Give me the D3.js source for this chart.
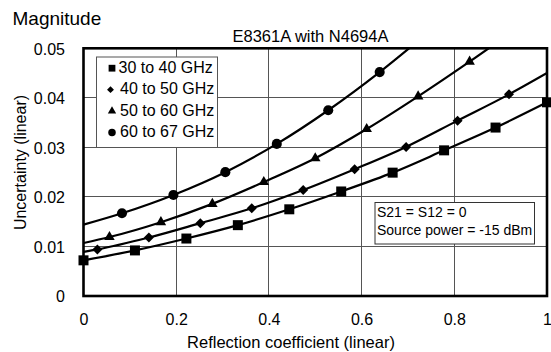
<!DOCTYPE html>
<html>
<head>
<meta charset="utf-8">
<script src="https://cdn.jsdelivr.net/npm/d3@7"></script>
<style>
  html, body { margin: 0; padding: 0; background: #fff; }
  svg { display: block; }
  .narrow { font-family: "Liberation Sans Narrow", "Arial Narrow", sans-serif; }
  .reg { font-family: "Liberation Sans", Arial, sans-serif; }
</style>
</head>
<body>
<svg id="chart" width="551" height="352"></svg>
<script>
// ---------- data ----------
const xTicks = [0, 0.2, 0.4, 0.6, 0.8, 1];
const xTickLabels = ["0", "0.2", "0.4", "0.6", "0.8", "1"];
const yTicks = [0, 0.01, 0.02, 0.03, 0.04, 0.05];
const yTickLabels = ["0", "0.01", "0.02", "0.03", "0.04", "0.05"];

const seriesNames = ["30 to 40 GHz", "40 to 50 GHz", "50 to 60 GHz", "60 to 67 GHz"];

// 30 to 40 GHz (squares)
const squareX = [0, 0.111, 0.222, 0.333, 0.444, 0.556, 0.667, 0.778, 0.889, 1.0];
const squareY = [0.0072, 0.0092, 0.0116, 0.0143, 0.0175, 0.0211, 0.0249, 0.0294, 0.0340, 0.0391];
const squareLineStart = null;
const squareLineEnd = null;

// 40 to 50 GHz (diamonds)
const diamondX = [0.030, 0.141, 0.252, 0.363, 0.474, 0.585, 0.696, 0.807, 0.918];
const diamondY = [0.0094, 0.0118, 0.0147, 0.0177, 0.0214, 0.0256, 0.0301, 0.0354, 0.0407];
const diamondLineStart = [0, 0.0089];
const diamondLineEnd = [1, 0.0450];

// 50 to 60 GHz (triangles)
const triangleX = [0.056, 0.167, 0.278, 0.389, 0.500, 0.611, 0.722, 0.833];
const triangleY = [0.0119, 0.0149, 0.0186, 0.0230, 0.0278, 0.0337, 0.0403, 0.0473];
const triangleLineStart = [0, 0.0107];
const triangleLineEnd = [0.945, 0.0547];

// 60 to 67 GHz (circles)
const circleX = [0.083, 0.194, 0.306, 0.417, 0.528, 0.639];
const circleY = [0.0167, 0.0204, 0.0250, 0.0307, 0.0375, 0.0452];
const circleLineStart = [0, 0.0144];
const circleLineEnd = [0.75, 0.0537];

const chartTitle = "E8361A with N4694A";
const pageTitle = "Magnitude";
const xLabel = "Reflection coefficient (linear)";
const yLabel = "Uncertainty (linear)";
const noteLines = ["S21 = S12 = 0", "Source power = -15 dBm"];

// ---------- layout ----------
const svg = d3.select("#chart");
const L = 83.5, R = 547, T = 48.3, B = 296;
const x = d3.scaleLinear().domain([0, 1]).range([L, R]);
const y = d3.scaleLinear().domain([0, 0.05]).range([B, T]);

const series = [
  {name: seriesNames[0], xs: squareX, ys: squareY, start: squareLineStart, end: squareLineEnd,
   sym: d3.symbolSquare, size: 100, rot: 0, lsize: 46},
  {name: seriesNames[1], xs: diamondX, ys: diamondY, start: diamondLineStart, end: diamondLineEnd,
   sym: d3.symbolSquare, size: 50, rot: 45, lsize: 24},
  {name: seriesNames[2], xs: triangleX, ys: triangleY, start: triangleLineStart, end: triangleLineEnd,
   sym: d3.symbolTriangle, size: 48, rot: 0, lsize: 30},
  {name: seriesNames[3], xs: circleX, ys: circleY, start: circleLineStart, end: circleLineEnd,
   sym: d3.symbolCircle, size: 80, rot: 0, lsize: 44}
];

// page title
svg.append("text").attr("class", "reg").attr("x", 12.5).attr("y", 25)
  .attr("font-size", 19).attr("fill", "#000").text(pageTitle);

// chart title
svg.append("text").attr("class", "narrow").attr("x", 310.5).attr("y", 42)
  .attr("text-anchor", "middle").attr("font-size", 16.5).attr("fill", "#000").text(chartTitle);

// grid
const grid = svg.append("g");
grid.selectAll("line.vx").data(xTicks.slice(1, -1)).join("line")
  .attr("x1", d => x(d)).attr("x2", d => x(d)).attr("y1", T).attr("y2", B)
  .attr("stroke", "#555").attr("stroke-width", 1).attr("shape-rendering", "crispEdges");
grid.selectAll("line.hy").data(yTicks.slice(1, -1)).join("line")
  .attr("x1", L).attr("x2", R).attr("y1", d => y(d)).attr("y2", d => y(d))
  .attr("stroke", "#555").attr("stroke-width", 1).attr("shape-rendering", "crispEdges");

// axes (tick labels via d3 axes, no domain/ticks drawn)
const xAxis = d3.axisBottom(x).tickValues(xTicks).tickSize(0).tickPadding(0)
  .tickFormat((d, i) => xTickLabels[i]);
const gx = svg.append("g").attr("transform", `translate(0,${B})`).call(xAxis);
gx.select(".domain").remove();
gx.selectAll("text").attr("class", "narrow").attr("font-size", 16).attr("fill", "#000")
  .attr("dy", null).attr("y", 29);

const yAxis = d3.axisLeft(y).tickValues(yTicks).tickSize(0).tickPadding(0)
  .tickFormat((d, i) => yTickLabels[i]);
const gy = svg.append("g").attr("transform", `translate(65,0)`).call(yAxis);
gy.select(".domain").remove();
gy.selectAll("text").attr("class", "narrow").attr("font-size", 16).attr("fill", "#000")
  .attr("dy", "0.36em");

// axis labels
svg.append("text").attr("class", "reg").attr("x", 291).attr("y", 347.5)
  .attr("text-anchor", "middle").attr("font-size", 16.5).attr("fill", "#000").text(xLabel);
svg.append("text").attr("class", "reg")
  .attr("transform", "translate(25.5,162.5) rotate(-90)")
  .attr("text-anchor", "middle").attr("font-size", 16).attr("fill", "#000").text(yLabel);

// clip
svg.append("clipPath").attr("id", "plotclip").append("rect")
  .attr("x", L).attr("y", T).attr("width", R - L).attr("height", B - T);

// lines
const line = d3.line().x(d => x(d[0])).y(d => y(d[1])).curve(d3.curveMonotoneX);
const plot = svg.append("g").attr("clip-path", "url(#plotclip)");
series.forEach(s => {
  const pts = s.xs.map((v, i) => [v, s.ys[i]]);
  if (s.start) pts.unshift(s.start);
  if (s.end) pts.push(s.end);
  plot.append("path").datum(pts).attr("d", line)
    .attr("fill", "none").attr("stroke", "#000").attr("stroke-width", 2.2);
});

// markers
const mk = svg.append("g");
series.forEach(s => {
  mk.selectAll(null).data(s.xs.map((v, i) => [v, s.ys[i]])).join("path")
    .attr("d", d3.symbol().type(s.sym).size(s.size))
    .attr("transform", d => `translate(${x(d[0])},${y(d[1])}) rotate(${s.rot})`)
    .attr("fill", "#000");
});

// frame
svg.append("rect").attr("x", L).attr("y", T).attr("width", R - L).attr("height", B - T)
  .attr("fill", "none").attr("stroke", "#000").attr("stroke-width", 2.6);

// legend
const lg = svg.append("g");
lg.append("rect").attr("x", 96.5).attr("y", 57).attr("width", 121).attr("height", 90.5)
  .attr("fill", "#fff").attr("stroke", "#555").attr("stroke-width", 1);
const rowY = d3.scalePoint().domain(seriesNames).range([72.7, 137]);
series.forEach((s, i) => {
  const by = rowY(s.name);
  lg.append("path").attr("d", d3.symbol().type(s.sym).size(s.lsize)())
    .attr("transform", `translate(${i === 1 ? 110.5 : 112},${by - 4.5}) rotate(${s.rot})`)
    .attr("fill", "#000");
  lg.append("text").attr("class", "narrow").attr("x", i === 0 ? 118.5 : 120).attr("y", by)
    .attr("font-size", 16).attr("fill", "#000").text(s.name);
});

// note box
const nb = svg.append("g");
nb.append("rect").attr("x", 375).attr("y", 202.5).attr("width", 159.5).attr("height", 41.5)
  .attr("fill", "#fff").attr("stroke", "#333").attr("stroke-width", 1);
noteLines.forEach((t, i) => {
  nb.append("text").attr("class", "narrow").attr("x", 377).attr("y", 216.5 + i * 18)
    .attr("font-size", 14).attr("fill", "#000").text(t);
});
</script>
</body>
</html>
